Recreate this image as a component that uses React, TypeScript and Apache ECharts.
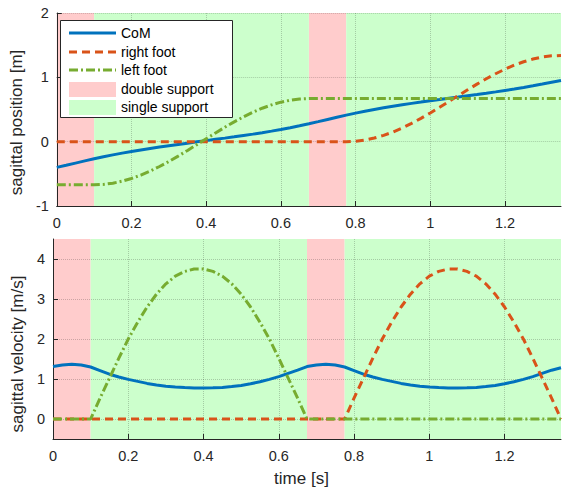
import React, { useEffect, useRef } from 'react';
import * as echarts from 'echarts';

// time samples [s]
const time = [
  0, 0.025, 0.05, 0.075, 0.1, 0.125, 0.15, 0.175, 0.2, 0.225, 0.25, 0.275, 0.3, 0.325,
  0.35, 0.375, 0.4, 0.425, 0.45, 0.475, 0.5, 0.525, 0.55, 0.575, 0.6, 0.625, 0.65, 0.675,
  0.7, 0.725, 0.75, 0.775, 0.8, 0.825, 0.85, 0.875, 0.9, 0.925, 0.95, 0.975, 1.0, 1.025,
  1.05, 1.075, 1.1, 1.125, 1.15, 1.175, 1.2, 1.225, 1.25, 1.275, 1.3, 1.325, 1.35,
];

// sagittal position [m]
const comPos = [
  -0.4, -0.367, -0.333, -0.299, -0.266, -0.234, -0.205, -0.178, -0.153, -0.128, -0.106, -0.084, -0.063, -0.043,
  -0.023, -0.003, 0.016, 0.036, 0.055, 0.075, 0.096, 0.117, 0.14, 0.164, 0.19, 0.217, 0.247, 0.278,
  0.311, 0.345, 0.379, 0.413, 0.444, 0.473, 0.5, 0.526, 0.55, 0.573, 0.595, 0.615, 0.636, 0.655,
  0.675, 0.694, 0.714, 0.733, 0.753, 0.774, 0.796, 0.818, 0.842, 0.868, 0.895, 0.925, 0.95,
];
const rightFootPos = [
  0, 0, 0, 0, 0, 0, 0, 0, 0, 0, 0, 0, 0, 0,
  0, 0, 0, 0, 0, 0, 0, 0, 0, 0, 0, 0, 0, 0,
  0, 0, 0, 0, 0.006, 0.025, 0.056, 0.098, 0.15, 0.213, 0.284, 0.362, 0.446, 0.534,
  0.624, 0.716, 0.806, 0.894, 0.978, 1.056, 1.127, 1.19, 1.242, 1.284, 1.315, 1.334, 1.34,
];
const leftFootPos = [
  -0.67, -0.67, -0.67, -0.67, -0.67, -0.664, -0.645, -0.614, -0.572, -0.52, -0.457, -0.386, -0.308, -0.224,
  -0.136, -0.046, 0.046, 0.136, 0.224, 0.308, 0.386, 0.457, 0.52, 0.572, 0.614, 0.645, 0.664, 0.67,
  0.67, 0.67, 0.67, 0.67, 0.67, 0.67, 0.67, 0.67, 0.67, 0.67, 0.67, 0.67, 0.67, 0.67,
  0.67, 0.67, 0.67, 0.67, 0.67, 0.67, 0.67, 0.67, 0.67, 0.67, 0.67, 0.67, 0.67,
];

// sagittal velocity [m/s]
const comVel = [
  1.31, 1.35, 1.37, 1.35, 1.3, 1.21, 1.12, 1.05, 0.99, 0.94, 0.89, 0.85, 0.82, 0.8,
  0.785, 0.777, 0.775, 0.78, 0.79, 0.81, 0.84, 0.88, 0.93, 0.99, 1.06, 1.14, 1.22, 1.31,
  1.35, 1.37, 1.35, 1.3, 1.21, 1.12, 1.05, 0.99, 0.94, 0.89, 0.85, 0.82, 0.8, 0.785,
  0.777, 0.775, 0.78, 0.79, 0.81, 0.84, 0.88, 0.93, 0.99, 1.06, 1.14, 1.22, 1.28,
];
const rightFootVel = [
  0, 0, 0, 0, 0, 0, 0, 0, 0, 0, 0, 0, 0, 0,
  0, 0, 0, 0, 0, 0, 0, 0, 0, 0, 0, 0, 0, 0,
  0, 0, 0, 0, 0.52, 1.02, 1.52, 2.0, 2.42, 2.8, 3.12, 3.38, 3.57, 3.69,
  3.75, 3.75, 3.69, 3.57, 3.38, 3.12, 2.8, 2.42, 2.0, 1.52, 1.02, 0.52, 0,
];
const leftFootVel = [
  0, 0, 0, 0, 0, 0.52, 1.02, 1.52, 2.0, 2.42, 2.8, 3.12, 3.38, 3.57,
  3.69, 3.75, 3.75, 3.69, 3.57, 3.38, 3.12, 2.8, 2.42, 2.0, 1.52, 1.02, 0.52, 0,
  0, 0, 0, 0, 0, 0, 0, 0, 0, 0, 0, 0, 0, 0,
  0, 0, 0, 0, 0, 0, 0, 0, 0, 0, 0, 0, 0,
];

// support phases [s]
const doubleSupport = [[0, 0.1], [0.675, 0.775]];
const singleSupport = [[0.1, 0.675], [0.775, 1.35]];

const xTicks = [0, 0.2, 0.4, 0.6, 0.8, 1, 1.2];
const posTicks = [-1, 0, 1, 2];
const velTicks = [0, 1, 2, 3, 4];

const FONT = 'Liberation Sans, Arial, Helvetica, sans-serif';
const AX = '#262626';
const C_COM = '#0072BD';
const C_RF = '#D95319';
const C_LF = '#77AC30';
const C_DS = '#ffcccc';
const C_SS = '#ccffcc';
const DASH = [8, 5];
const DASHDOT = [9, 3, 2, 3];
const LW = 3;

export default function App() {
  const ref = useRef<HTMLDivElement>(null);
  useEffect(() => {
    const chart = echarts.init(ref.current!, null, { renderer: 'svg' });
    const pair = (ys: number[]) => time.map((t, i) => [t, ys[i]]);
    const grid = [
      { left: 53, top: 13, width: 508, height: 193 },
      { left: 53, top: 239, width: 508, height: 200 },
    ];
    const xAxis = (gi: number) => ({
      type: 'value', gridIndex: gi, min: 0, max: 1.35, z: 2,
      axisLine: { show: true, onZero: false, lineStyle: { color: AX, width: 1 } },
      axisTick: { show: true, inside: true, length: 5, customValues: xTicks, lineStyle: { color: AX } },
      axisLabel: { color: AX, fontSize: 14.5, fontFamily: FONT, margin: 9, customValues: xTicks },
      splitLine: { show: true, lineStyle: { type: 'dotted', color: 'rgba(0,0,0,0.2)', width: 1 } },
      name: gi === 1 ? 'time [s]' : '', nameLocation: 'middle', nameGap: 31,
      nameTextStyle: { color: AX, fontSize: 17, fontFamily: FONT, padding: [0, 11, 0, 0] },
    });
    const yAxis = (gi: number, min: number, max: number, ticks: number[], name: string, gap: number, shift: number) => ({
      type: 'value', gridIndex: gi, min, max, z: 2,
      axisLine: { show: true, onZero: false, lineStyle: { color: AX, width: 1 } },
      axisTick: { show: true, inside: true, length: 5, customValues: ticks, lineStyle: { color: AX } },
      axisLabel: { color: AX, fontSize: 14.5, fontFamily: FONT, margin: 8, customValues: ticks },
      splitLine: { show: true, lineStyle: { type: 'dotted', color: 'rgba(0,0,0,0.2)', width: 1 } },
      name, nameLocation: 'middle', nameGap: gap,
      nameTextStyle: { color: AX, fontSize: 17, fontFamily: FONT, padding: [0, shift, 0, 0] },
    });
    const regions = (gi: number) => [
      {
        type: 'line', name: 'double support', xAxisIndex: gi, yAxisIndex: gi, data: [], z: 1, silent: true,
        markArea: { silent: true, itemStyle: { color: C_DS, opacity: 1 }, label: { show: false },
          data: doubleSupport.map(([a, b]) => [{ xAxis: a }, { xAxis: b }]) },
      },
      {
        type: 'line', name: 'single support', xAxisIndex: gi, yAxisIndex: gi, data: [], z: 1, silent: true,
        markArea: { silent: true, itemStyle: { color: C_SS, opacity: 1 }, label: { show: false },
          data: singleSupport.map(([a, b]) => [{ xAxis: a }, { xAxis: b }]) },
      },
    ];
    const line = (gi: number, name: string, ys: number[], color: string, type: any) => ({
      type: 'line', name, xAxisIndex: gi, yAxisIndex: gi, data: pair(ys), z: 5,
      showSymbol: false, symbol: 'none', silent: true,
      lineStyle: { color, width: LW, type, cap: 'butt' },
    });
    const legendRows = [
      { label: 'CoM', kind: 'line', color: C_COM, dash: null },
      { label: 'right foot', kind: 'line', color: C_RF, dash: DASH },
      { label: 'left foot', kind: 'line', color: C_LF, dash: DASHDOT },
      { label: 'double support', kind: 'rect', color: C_DS, dash: null },
      { label: 'single support', kind: 'rect', color: C_SS, dash: null },
    ];
    const LX = 60;
    const LY = 20;
    const rowY = [33, 52, 70, 89, 107];
    const legendEls: any[] = [
      {
        type: 'rect', z: 100, silent: true,
        shape: { x: LX + 0.5, y: LY + 0.5, width: 172, height: 97 },
        style: { fill: '#ffffff', stroke: AX, lineWidth: 1 },
      },
    ];
    legendRows.forEach((r, i) => {
      const y = rowY[i];
      if (r.kind === 'line') {
        const style: any = { stroke: r.color, lineWidth: LW };
        if (r.dash) style.lineDash = r.dash;
        legendEls.push({ type: 'line', z: 101, silent: true, shape: { x1: 69, y1: y, x2: 116, y2: y }, style });
      } else {
        legendEls.push({
          type: 'rect', z: 101, silent: true, shape: { x: 69, y: y - 7, width: 47, height: 15 }, style: { fill: r.color },
        });
      }
      legendEls.push({
        type: 'text', z: 101, silent: true, x: 121, y,
        style: { text: r.label, fill: '#000', fontSize: 14, fontFamily: FONT, verticalAlign: 'middle', align: 'left' },
      });
    });
    chart.setOption({
      animation: false,
      backgroundColor: '#fff',
      grid,
      xAxis: [xAxis(0), xAxis(1)],
      yAxis: [
        yAxis(0, -1, 2, posTicks, 'sagittal position [m]', 26, 26),
        yAxis(1, -0.5, 4.5, velTicks, 'sagittal velocity [m/s]', 23, 30),
      ],
      series: [
        ...regions(0),
        ...regions(1),
        line(0, 'CoM', comPos, C_COM, 'solid'),
        line(0, 'right foot', rightFootPos, C_RF, DASH),
        line(0, 'left foot', leftFootPos, C_LF, DASHDOT),
        line(1, 'CoM', comVel, C_COM, 'solid'),
        line(1, 'right foot', rightFootVel, C_RF, DASH),
        line(1, 'left foot', leftFootVel, C_LF, DASHDOT),
      ],
      graphic: { elements: legendEls },
    });
    return () => chart.dispose();
  }, []);
  return <div ref={ref} style={{ position: 'fixed', left: 0, top: 0, width: 562, height: 488 }} />;
}
